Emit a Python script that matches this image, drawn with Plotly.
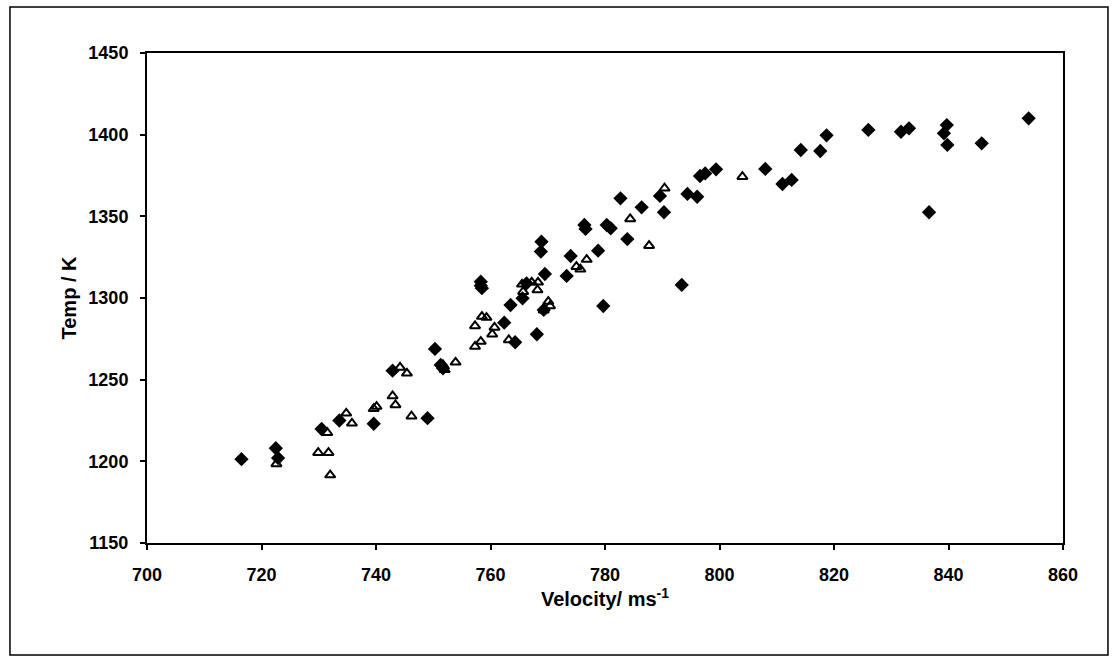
import plotly.graph_objects as go

# Series 1: filled diamonds
diamond_vel = [716.5, 722.5, 722.9, 730.5, 733.6, 739.6, 742.9, 749.0, 750.3, 751.3, 751.7,
               758.3, 758.3, 758.5, 762.4, 763.5, 764.3, 765.6, 766.3, 768.1, 768.8, 768.9,
               769.5, 769.3, 773.3, 774.0, 776.4, 776.6, 778.8, 779.7, 780.3, 781.0, 782.7,
               783.9, 786.4, 789.6, 790.3, 793.4, 794.4, 796.1, 796.6, 797.5, 799.4, 808.0,
               811.0, 812.6, 814.2, 817.6, 818.7, 826.0, 831.7, 833.1, 836.6, 839.7, 839.2,
               839.8, 845.8, 854.0]
diamond_temp = [1201.3, 1208.0, 1202.0, 1219.8, 1225.0, 1223.0, 1255.5, 1226.4, 1268.8, 1259.0, 1257.0,
                1310.0, 1307.5, 1306.0, 1284.9, 1295.7, 1272.9, 1299.8, 1309.0, 1277.8, 1328.4, 1334.5,
                1314.7, 1292.7, 1313.5, 1325.7, 1344.7, 1342.3, 1329.0, 1295.1, 1344.7, 1342.7, 1361.0,
                1336.1, 1355.5, 1362.5, 1352.5, 1308.0, 1363.7, 1362.0, 1374.7, 1376.3, 1378.8, 1379.0,
                1369.8, 1372.3, 1390.6, 1390.0, 1399.6, 1402.9, 1401.8, 1403.9, 1352.5, 1405.9, 1400.8,
                1393.7, 1394.7, 1410.0]

# Series 2: open triangles
tri_vel = [722.6, 731.5, 729.9, 731.7, 732.0, 734.8, 735.8, 739.6, 740.1, 742.9, 743.4, 744.2,
           745.4, 746.2, 751.7, 752.0, 753.9, 757.3, 758.3, 757.3, 758.5, 759.3, 760.7, 760.3,
           763.2, 765.5, 765.7, 767.2, 768.3, 768.2, 770.1, 770.4, 769.3, 775.0, 775.7, 776.8,
           784.4, 787.7, 790.4, 804.0]
tri_temp = [1198.4, 1217.5, 1205.3, 1205.3, 1191.6, 1229.4, 1223.3, 1232.2, 1233.5, 1240.0, 1234.5, 1257.5,
            1253.9, 1227.6, 1259.0, 1256.0, 1260.6, 1270.3, 1273.3, 1282.9, 1288.6, 1288.0, 1282.0, 1277.8,
            1274.3, 1308.4, 1303.9, 1309.6, 1309.6, 1304.9, 1297.8, 1295.1, 1292.5, 1319.2, 1317.6, 1323.5,
            1348.4, 1332.0, 1367.2, 1374.3]

x_ticks = [700, 720, 740, 760, 780, 800, 820, 840, 860]
y_ticks = [1150, 1200, 1250, 1300, 1350, 1400, 1450]

FONT = "Liberation Sans, Arial, sans-serif"

fig = go.Figure()
fig.add_trace(go.Scatter(
    x=diamond_vel, y=diamond_temp, mode="markers",
    marker=dict(symbol="diamond", size=11, color="black", line=dict(width=0)),
    showlegend=False, cliponaxis=False))
fig.add_trace(go.Scatter(
    x=tri_vel, y=tri_temp, mode="markers",
    marker=dict(symbol="triangle-up-open", size=9, color="black", line=dict(width=2)),
    showlegend=False, cliponaxis=False))

axis_common = dict(
    showgrid=False, zeroline=False, showline=True, linecolor="black", linewidth=2,
    mirror=True, ticks="outside", ticklen=5, tickwidth=1.5, tickcolor="black",
    tickfont=dict(family=FONT, size=18, color="black", weight="bold"),
)

fig.update_layout(
    width=1118, height=667,
    margin=dict(l=147, r=55, t=53, b=124),
    paper_bgcolor="white", plot_bgcolor="white",
    xaxis=dict(range=[700, 860], tickvals=x_ticks, ticklabelstandoff=9,
               title=dict(text="<b>Velocity/ ms<sup>-1</sup></b>",
                          font=dict(family=FONT, size=20, color="black"), standoff=6),
               **axis_common),
    yaxis=dict(range=[1150, 1450], tickvals=y_ticks, ticklabelstandoff=8,
               title=dict(text="<b>Temp / K</b>",
                          font=dict(family=FONT, size=20, color="black"), standoff=6),
               **axis_common),
    shapes=[dict(type="rect", xref="paper", yref="paper",
                 x0=-0.1496, x1=1.0491, y0=-0.2286, y1=1.0939,
                 line=dict(color="black", width=1.5), fillcolor="rgba(0,0,0,0)", layer="below")],
)

fig.write_html("out.html")
